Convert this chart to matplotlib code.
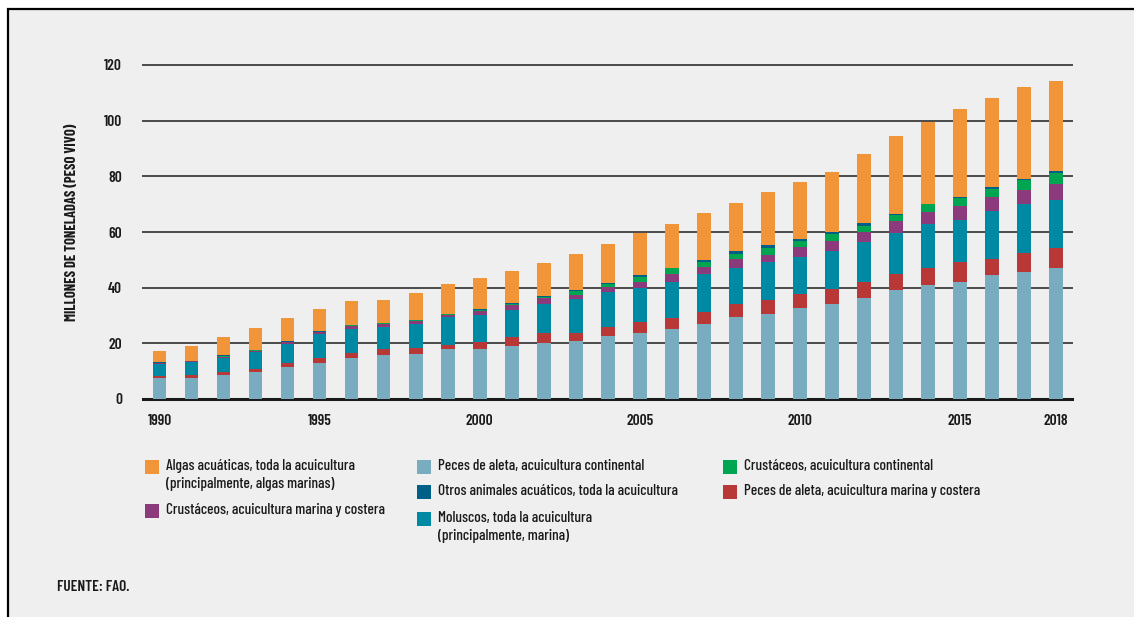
import matplotlib
matplotlib.use("Agg")
import matplotlib.pyplot as plt
from matplotlib.patches import Rectangle
import numpy as np

plt.rcParams['font.family'] = ['Barlow Condensed', 'DejaVu Sans']

years = list(range(1990, 2019))
xtick_labels = ['1990', '1995', '2000', '2005', '2010', '2015', '2018']
xtick_years = [1990, 1995, 2000, 2005, 2010, 2015, 2018]
yticks = [0, 20, 40, 60, 80, 100, 120]

fin_inland = [7.5, 7.5, 8.7, 9.7, 11.5, 12.9, 14.6, 15.7, 16.2, 17.8,
              17.8, 19.2, 20.0, 20.9, 22.6, 23.6, 25.2, 26.9, 29.5, 30.6,
              32.8, 34.1, 36.2, 39.0, 41.0, 42.2, 44.4, 45.5, 46.9]
fin_marine = [0.6, 1.1, 1.1, 1.1, 1.4, 1.7, 2.0, 2.1, 2.1, 1.6,
              2.6, 2.9, 3.6, 2.7, 3.2, 3.9, 3.9, 4.3, 4.8, 5.1,
              5.0, 5.4, 6.0, 5.9, 6.1, 7.1, 5.8, 7.0, 7.2]
molluscs = [4.4, 4.7, 4.9, 6.1, 6.7, 8.6, 8.7, 8.2, 8.8, 9.9,
            9.7, 9.7, 10.6, 12.2, 12.5, 12.5, 13.0, 13.7, 12.8, 13.5,
            13.1, 13.6, 14.1, 14.7, 15.7, 15.1, 17.4, 17.4, 17.3]
crust_marine = [0.5, 0.3, 0.5, 0.5, 0.9, 0.9, 0.8, 1.1, 1.0, 1.0,
                1.6, 2.1, 2.1, 1.5, 2.0, 2.1, 2.7, 2.5, 3.1, 2.7,
                3.6, 3.7, 3.7, 4.2, 4.3, 5.0, 5.0, 5.3, 6.0]
crust_inland = [0.05, 0.05, 0.1, 0.1, 0.1, 0.1, 0.4, 0.2, 0.2, 0.2,
                0.4, 0.3, 0.3, 1.5, 1.0, 1.8, 2.1, 1.9, 1.8, 2.2,
                2.4, 2.4, 2.3, 2.2, 2.8, 2.7, 2.8, 3.4, 3.7]
other_animals = [0.15, 0.15, 0.4, 0.2, 0.2, 0.2, 0.1, 0.1, 0.1, 0.1,
                 0.2, 0.3, 0.3, 0.2, 0.4, 0.5, 0.3, 0.6, 1.1, 1.1,
                 0.6, 0.8, 1.1, 0.6, 0.3, 0.6, 0.9, 0.6, 0.7]
algae = [4.0, 5.2, 6.6, 7.7, 8.4, 8.1, 8.6, 8.3, 9.6, 10.7,
         11.0, 11.5, 11.8, 13.0, 14.0, 15.4, 15.7, 16.8, 17.2, 19.0,
         20.5, 21.7, 24.8, 28.0, 29.4, 31.4, 32.0, 32.9, 32.4]

series = [
    (fin_inland, '#7aacbf'),
    (fin_marine, '#b83837'),
    (molluscs, '#0089a3'),
    (crust_marine, '#8b3a7c'),
    (crust_inland, '#00a551'),
    (other_animals, '#005f86'),
    (algae, '#f29538'),
]

W, H = 1134, 617
fig = plt.figure(figsize=(W / 100, H / 100), dpi=100, facecolor='white')

# panel background with border
fig.patches.append(Rectangle((8 / W, -0.05), 1.1, (H - 9) / H + 0.05,
                             transform=fig.transFigure, facecolor='#efefef',
                             edgecolor='black', linewidth=1.6, zorder=-10))

ax = fig.add_axes([143 / W, (H - 399) / H, (1072 - 143) / W, (399 - 65) / H],
                  zorder=5)
ax.set_facecolor('none')

for y in yticks:
    ax.axhline(y, color='#1a1a1a' if y == 0 else '#4a4a4a',
               lw=2.2 if y == 0 else 1.4, zorder=1, clip_on=False)

bottom = np.zeros(len(years))
for vals, col in series:
    v = np.array(vals)
    ax.bar(years, v, bottom=bottom, width=0.43, color=col, zorder=2,
           edgecolor='none')
    bottom += v

ax.set_xlim(1989.485, 2018.5)
ax.set_ylim(0, 120)
ax.set_xticks(xtick_years)
ax.set_xticklabels(xtick_labels)
ax.set_yticks(yticks)
ax.set_yticklabels([str(t) for t in yticks])
ax.tick_params(axis='both', length=0, labelsize=11, colors='#1a1a1a')
ax.tick_params(axis='x', pad=11)
ax.tick_params(axis='y', pad=15)
for lab in ax.get_xticklabels() + ax.get_yticklabels():
    lab.set_fontweight('semibold')
for s in ax.spines.values():
    s.set_visible(False)

fig.text(72 / W, 1 - 222 / H, 'MILLONES DE TONELADAS (PESO VIVO)',
         rotation=90, ha='center', va='center', fontsize=10.5,
         fontweight='bold', color='#1a1a1a')

# legend
legend_items = [
    (145, 467, '#f29538', 'Algas acuáticas, toda la acuicultura\n(principalmente, algas marinas)'),
    (145, 511, '#8b3a7c', 'Crustáceos, acuicultura marina y costera'),
    (417, 467, '#7aacbf', 'Peces de aleta, acuicultura continental'),
    (417, 492, '#005f86', 'Otros animales acuáticos, toda la acuicultura'),
    (417, 519, '#0089a3', 'Moluscos, toda la acuicultura\n(principalmente, marina)'),
    (723, 467, '#00a551', 'Crustáceos, acuicultura continental'),
    (723, 492, '#b83837', 'Peces de aleta, acuicultura marina y costera'),
]
for x, y, col, txt in legend_items:
    fig.patches.append(Rectangle((x / W, 1 - (y + 7) / H), 14 / W, 14 / H,
                                 transform=fig.transFigure, facecolor=col,
                                 edgecolor='none', zorder=3))
    fig.text((x + 21) / W, 1 - (y - 8) / H, txt, ha='left', va='top',
             fontsize=11, fontweight='medium', color='#1a1a1a',
             linespacing=1.35)

fig.text(57 / W, 1 - 587 / H, 'FUENTE: FAO.', ha='left', va='center',
         fontsize=11, fontweight='semibold', color='#1a1a1a')

fig.savefig('out.png', dpi=100, facecolor=fig.get_facecolor())
